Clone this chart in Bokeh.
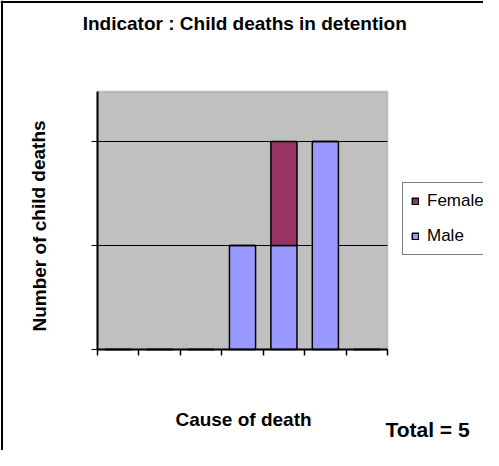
from bokeh.plotting import figure
from bokeh.models import (Range1d, FixedTicker, Label, Legend, LegendItem, ColumnDataSource,
                          BoxAnnotation, Span)
from bokeh.embed import file_html
from bokeh.resources import INLINE

# ---- data ----
slots = [0, 1, 2, 3, 4, 5, 6]          # seven (unlabelled) cause-of-death categories
male = [0, 0, 0, 1, 1, 2, 0]
female = [0, 0, 0, 0, 1, 0, 0]
y_ticks = [0, 1, 2]
x_ticks = [0, 1, 2, 3, 4, 5, 6, 7]
y_top = 2.48
title_text = "Indicator   : Child deaths in detention"
x_title = "Cause of death"
y_title = "Number of child deaths"
total_text = "Total = 5"

FONT = "Liberation Sans"
W, H = 483, 450
PX_X, X0 = 41.4286, 97.0     # px per category, canvas x of category axis origin
PX_Y, Y0 = 104.0, 349.0      # px per death, canvas y of value axis origin

src = ColumnDataSource(dict(x=[s + 0.5 for s in slots], male=male, female=female))

p = figure(width=W, height=H, output_backend="svg", toolbar_location=None,
           x_range=Range1d(-X0 / PX_X, (W - X0) / PX_X),
           y_range=Range1d(-(H - Y0) / PX_Y, Y0 / PX_Y),
           min_border_left=0, min_border_right=0, min_border_top=0, min_border_bottom=0)
p.border_fill_color = "white"
p.background_fill_color = "white"
p.outline_line_color = None

# plot area
p.add_layout(BoxAnnotation(left=0, right=len(slots), bottom=0, top=y_top,
                           fill_color="#C0C0C0", fill_alpha=1,
                           line_color="#808080", line_width=2, level="image"))

rs = p.vbar_stack(["male", "female"], x="x", width=0.63, source=src,
                  fill_color=["#9999FF", "#993366"], line_color="black", line_width=1.5)

p.xgrid.visible = False
p.ygrid.visible = False

for ax, ticks, bnd in ((p.xaxis[0], x_ticks, (0, len(slots))), (p.yaxis[0], y_ticks, (0, y_top))):
    ax.ticker = FixedTicker(ticks=ticks)
    ax.fixed_location = 0
    ax.bounds = bnd
    ax.axis_line_color = "black"
    ax.axis_line_width = 2
    ax.major_tick_line_color = "black"
    ax.major_tick_out = 6
    ax.minor_tick_line_color = None
    ax.major_label_text_font_size = "0px"
    ax.major_label_overrides = {t: "" for t in ticks}

p.xaxis[0].major_tick_in = 0
p.xaxis[0].major_tick_line_width = 1.5
# value-axis ticks run across the plot area as its horizontal gridlines, behind the bars
p.yaxis[0].major_tick_in = int(round(len(slots) * PX_X))
p.yaxis[0].major_tick_line_width = 1
p.yaxis[0].level = "underlay"

legend = Legend(items=[LegendItem(label="Female", renderers=[rs[1]]),
                       LegendItem(label="Male", renderers=[rs[0]])],
                location=(402, 195), orientation="vertical",
                padding=8, spacing=15, margin=0, label_height=20,
                glyph_width=8, glyph_height=8, label_standoff=8,
                label_text_font=FONT, label_text_font_size="17px", label_text_color="black",
                border_line_color="black", border_line_width=1.5,
                background_fill_color="white", background_fill_alpha=1)
p.add_layout(legend)

def lab(txt, cx, cy, size, angle=0.0):
    p.add_layout(Label(x=(cx - X0) / PX_X, y=(Y0 - cy) / PX_Y, text=txt,
                       text_font=FONT, text_font_size=size, text_font_style="bold",
                       text_color="black", text_align="center", text_baseline="middle",
                       angle=angle))

lab(title_text, 249.5, 23.4, "19px")
lab(y_title, 38.5, 225.5, "19px", angle=1.5708)
lab(x_title, 243.0, 419.4, "19px")
lab(total_text, 427.0, 428.6, "21px")

# outer chart border (left and top edges visible)
p.add_layout(Span(location=(1.5 - X0) / PX_X, dimension="height", line_color="black", line_width=2))
p.add_layout(Span(location=(Y0 - 1.5) / PX_Y, dimension="width", line_color="black", line_width=2))

open("out.html", "w").write(file_html(p, INLINE))
